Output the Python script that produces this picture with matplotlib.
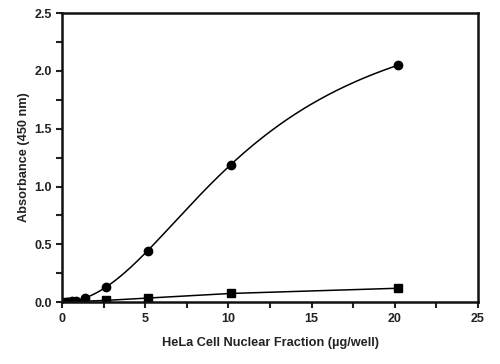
import numpy as np
import matplotlib
matplotlib.use("Agg")
import matplotlib.pyplot as plt
from matplotlib.ticker import MultipleLocator

plt.rcParams['font.family'] = ['Liberation Sans', 'DejaVu Sans']

circle_x = [0.3, 0.6, 0.85, 1.4, 2.65, 5.15, 10.15, 20.2]
circle_y = [0.005, 0.008, 0.012, 0.035, 0.13, 0.445, 1.19, 2.05]
square_x = [0.3, 0.55, 0.8, 2.65, 5.15, 10.15, 20.2]
square_y = [0.003, 0.004, 0.005, 0.015, 0.035, 0.075, 0.12]

x_ticks = [0, 5, 10, 15, 20, 25]
y_ticks = [0.0, 0.5, 1.0, 1.5, 2.0, 2.5]


def fit_4pl(x, y):
    """Least-squares 4-parameter logistic fit via grid search on (c, b)."""
    x = np.asarray(x, float); y = np.asarray(y, float)
    best = None
    for c in np.linspace(3, 40, 371):
        for b in np.linspace(1.0, 4.0, 121):
            g = 1.0 / (1.0 + (x / c) ** b)
            A = np.column_stack([g, 1 - g])
            coef, *_ = np.linalg.lstsq(A, y, rcond=None)
            r = np.sum((A @ coef - y) ** 2)
            if best is None or r < best[0]:
                best = (r, c, b, coef)
    _, c, b, (a, d) = best
    return lambda xs: d + (a - d) / (1.0 + (np.asarray(xs) / c) ** b)


fig = plt.figure(figsize=(5.0, 3.64), dpi=100)
ax = fig.add_axes([0.124, 0.170, 0.832, 0.794])

f = fit_4pl(circle_x, circle_y)
xs = np.linspace(circle_x[0], circle_x[-1], 400)
ax.plot(xs, f(xs), color='black', lw=1.1)
ax.plot(circle_x, circle_y, 'o', color='black', ms=6)
ax.plot(square_x, square_y, '-', color='black', lw=1.1)
ax.plot(square_x, square_y, 's', color='black', ms=6)

ax.set_xlim(0, 25)
ax.set_ylim(0, 2.5)
ax.set_xticks(x_ticks)
ax.set_yticks(y_ticks)
ax.set_xticklabels([str(t) for t in x_ticks])
ax.set_yticklabels([f"{t:.1f}" for t in y_ticks])
ax.xaxis.set_minor_locator(MultipleLocator(2.5))
ax.yaxis.set_minor_locator(MultipleLocator(0.25))
for s in ax.spines.values():
    s.set_linewidth(1.8)
    s.set_color('#111111')
ax.tick_params(which='major', direction='out', length=4, width=1.5, labelsize=9, colors='#222222')
ax.tick_params(which='minor', direction='out', length=4, width=1.5, colors='#222222')
for lab in ax.get_xticklabels() + ax.get_yticklabels():
    lab.set_fontweight('bold')
ax.set_xlabel('HeLa Cell Nuclear Fraction (µg/well)', fontsize=9.2, fontweight='bold', color='#222222', labelpad=9)
ax.set_ylabel('Absorbance (450 nm)', fontsize=9.2, fontweight='bold', color='#222222', labelpad=3)

fig.savefig('out.png', dpi=100)
